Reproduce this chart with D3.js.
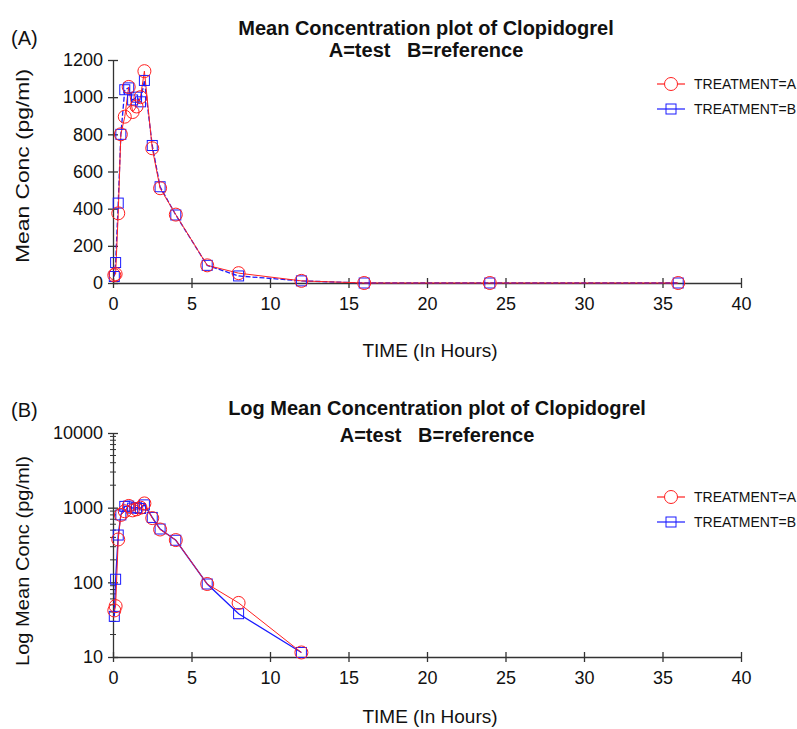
<!DOCTYPE html>
<html><head><meta charset="utf-8">
<script src="https://cdn.jsdelivr.net/npm/d3@7"></script>
<style>
body{margin:0;background:#fff;}
text{font-family:"Liberation Sans",Arial,sans-serif;fill:#111;}
</style></head>
<body><svg id="c" width="797" height="729"></svg>
<script>
// ---- data ----
const timesA = [0.083,0.167,0.333,0.5,0.75,1,1.25,1.5,1.75,2,2.5,3,4,6,8,12,16,24,36];
const concA  = [42,48,375,800,895,1055,920,950,1000,1140,725,510,368,95,53,11.5,0,0,0];
const timesB = [0.083,0.167,0.333,0.5,0.75,1,1.25,1.5,1.75,2,2.5,3,4,6,8,12,16,24,36];
const concB  = [35,110,430,800,1040,1050,985,1000,975,1090,740,518,366,95,38,11.5,0,0,0];
const xTicks = [0,5,10,15,20,25,30,35,40];
const yTicksLin = [0,200,400,600,800,1000,1200];
const yTicksLog = [10,100,1000,10000];
const seriesNames = ["TREATMENT=A","TREATMENT=B"];

const svg = d3.select("#c");
const L = 113, R = 741;
const colA = "#ff2020", colB = "#1a1aff";

function drawPanel(cfg){
  const g = svg.append("g");
  const x = d3.scaleLinear().domain([0,40]).range([L,R]);
  const y = cfg.y;
  // axes
  const xa = g.append("g").attr("transform",`translate(0,${cfg.bottom})`)
    .call(d3.axisBottom(x).tickValues(xTicks).tickSize(5).tickSizeOuter(0).tickFormat(d3.format("d")));
  xa.selectAll(".tick line").attr("y1",-5).attr("y2",5);
  xa.selectAll("text").attr("y",10).attr("dy","0.95em").style("font-size","18px");
  const ya = g.append("g").attr("transform",`translate(${L},0)`)
    .call(d3.axisLeft(y).tickValues(cfg.yTicks).tickSize(5).tickSizeOuter(0).tickFormat(d3.format("d")));
  ya.selectAll(".tick line").attr("x1",-5).attr("x2",5);
  ya.selectAll("text").attr("x",-10).style("font-size","18px");
  [xa,ya].forEach(a=>{a.selectAll("path,line").attr("stroke","#333").attr("stroke-width",1.3);
    a.selectAll("text").attr("fill","#111").style("font-family","Liberation Sans, Arial, sans-serif");});
  if(cfg.minor){
    const minors=[];
    [10,100,1000].forEach(d=>{for(let k=2;k<=9;k++) minors.push(d*k);});
    g.selectAll(".mn").data(minors).join("line")
      .attr("x1",L-3).attr("x2",L+3).attr("y1",d=>y(d)).attr("y2",d=>y(d))
      .attr("stroke","#333").attr("stroke-width",1);
  }
  // series
  const mk = (ts,cs)=>ts.map((t,i)=>({t,c:cs[i]})).filter(d=>cfg.log? d.c>0 : true);
  const dA = mk(timesA,concA), dB = mk(timesB,concB);
  const line = d3.line().x(d=>x(d.t)).y(d=>y(d.c));
  g.append("path").datum(dB).attr("d",line).attr("fill","none").attr("stroke",colB)
    .attr("stroke-width",1.3).attr("stroke-dasharray",cfg.log?null:"5,2");
  g.append("path").datum(dA).attr("d",line).attr("fill","none").attr("stroke",colA).attr("stroke-width",1);
  g.selectAll(".sq").data(dB).join("rect")
    .attr("x",d=>x(d.t)-5).attr("y",d=>y(d.c)-5).attr("width",10).attr("height",10)
    .attr("fill","none").attr("stroke",colB).attr("stroke-width",1);
  g.selectAll(".ci").data(dA).join("circle")
    .attr("cx",d=>x(d.t)).attr("cy",d=>y(d.c)).attr("r",6.5)
    .attr("fill","none").attr("stroke",colA).attr("stroke-width",1);
  // titles
  g.append("text").attr("x",cfg.tx).attr("y",cfg.ty).attr("text-anchor","middle")
    .style("font-size","20px").style("font-weight","bold").text(cfg.title);
  g.append("text").attr("x",cfg.tx).attr("y",cfg.ty+cfg.gap).attr("text-anchor","middle")
    .style("font-size","20px").style("font-weight","bold").attr("xml:space","preserve").text("A=test   B=reference");
  g.append("text").attr("x",11).attr("y",cfg.tagY).style("font-size","20px").text(cfg.tag);
  g.append("text").attr("x",430).attr("y",cfg.bottom+cfg.xlabOff).attr("text-anchor","middle")
    .style("font-size","19px").text("TIME (In Hours)");
  g.append("text").attr("transform",`translate(29,${cfg.ylabY}) rotate(-90)`).attr("text-anchor","middle")
    .style("font-size","19px").attr("textLength",cfg.ylabLen).attr("lengthAdjust","spacingAndGlyphs").text(cfg.ylab);
  // legend
  seriesNames.forEach((s,i)=>{
    const ly = cfg.legY + i*cfg.legGap, c = i===0?colA:colB;
    g.append("line").attr("x1",657).attr("x2",685).attr("y1",ly).attr("y2",ly).attr("stroke",c).attr("stroke-width",1.2);
    if(i===0) g.append("circle").attr("cx",671).attr("cy",ly).attr("r",6.5).attr("fill","#fff").attr("stroke",c);
    else g.append("rect").attr("x",666).attr("y",ly-5).attr("width",10).attr("height",10).attr("fill","none").attr("stroke",c);
    g.append("text").attr("x",694).attr("y",ly+5).style("font-size","14px").text(s);
  });
}

drawPanel({y:d3.scaleLinear().domain([0,1200]).range([283,60]), yTicks:yTicksLin, bottom:283,
  title:"Mean Concentration plot of Clopidogrel", tx:426, ty:35, gap:22, tag:"(A)", tagY:45,
  ylab:"Mean Conc (pg/ml)", ylabY:166, ylabLen:194, legY:84, legGap:25, xlabOff:74, log:false});
drawPanel({y:d3.scaleLog().domain([10,10000]).range([657,433]), yTicks:yTicksLog, bottom:657, minor:true,
  title:"Log Mean Concentration plot of Clopidogrel", tx:437, ty:415, gap:27, tag:"(B)", tagY:417,
  ylab:"Log Mean Conc (pg/ml)", ylabY:561, ylabLen:210, legY:497, legGap:25, xlabOff:66, log:true});
</script></body></html>
